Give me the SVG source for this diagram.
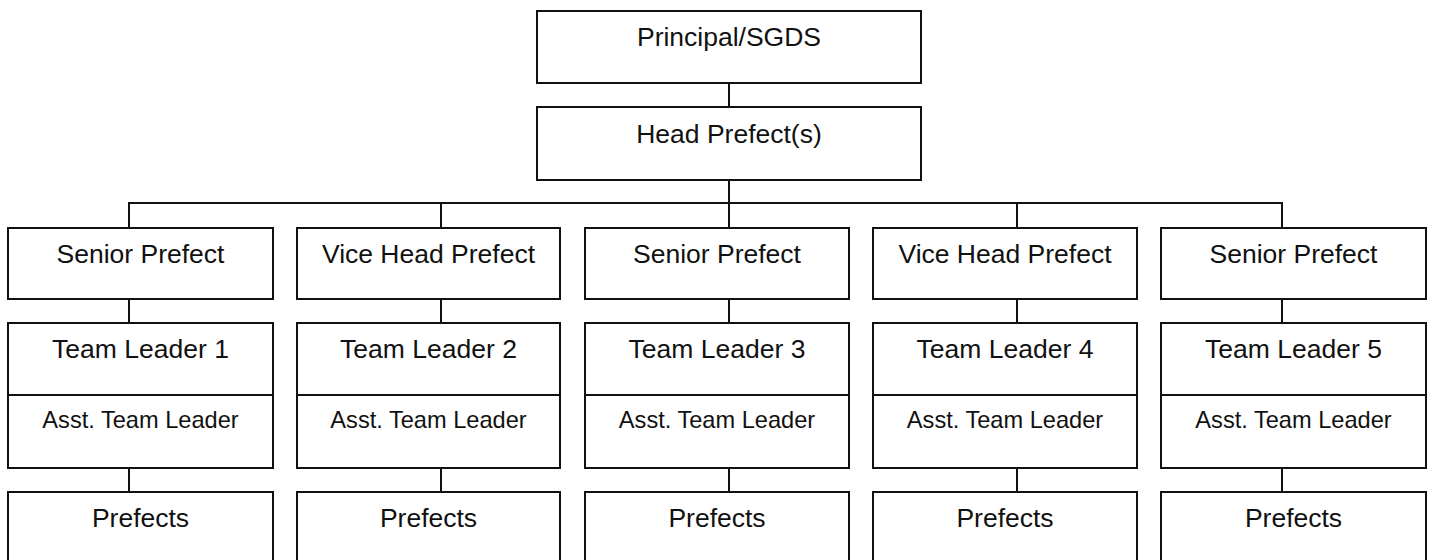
<svg xmlns="http://www.w3.org/2000/svg" width="1429" height="560" viewBox="0 0 1429 560">
<style>
.box{fill:#fff;stroke:#111;stroke-width:2}
.ln{fill:none;stroke:#111;stroke-width:2}
text{font-family:"Liberation Sans",Arial,sans-serif;font-size:26.5px;fill:#111;text-anchor:middle}
text.s{font-size:23.6px}
</style>
<rect width="1429" height="560" fill="#fff"/>
<g id="connectors" class="ln">
<path d="M729 83V107"/>
<path d="M729 180V203"/>
<path d="M129 228V203H1282V228"/>
<path d="M441 203V228"/>
<path d="M729 203V228"/>
<path d="M1017 203V228"/>
<path d="M129 299V323M441 299V323M729 299V323M1017 299V323M1282 299V323"/>
<path d="M129 468V492M441 468V492M729 468V492M1017 468V492M1282 468V492"/>
</g>
<g id="principal"><rect class="box" x="537" y="11" width="384" height="72"/><text x="729" y="46">Principal/SGDS</text></g>
<g id="head"><rect class="box" x="537" y="107" width="384" height="73"/><text x="729" y="143">Head Prefect(s)</text></g>

<g id="sp1"><rect class="box" x="8" y="228" width="265" height="71"/><text x="140.5" y="263">Senior Prefect</text></g>
<g id="vhp2"><rect class="box" x="297" y="228" width="263" height="71"/><text x="428.5" y="263">Vice Head Prefect</text></g>
<g id="sp3"><rect class="box" x="585" y="228" width="264" height="71"/><text x="717" y="263">Senior Prefect</text></g>
<g id="vhp4"><rect class="box" x="873" y="228" width="264" height="71"/><text x="1005" y="263">Vice Head Prefect</text></g>
<g id="sp5"><rect class="box" x="1161" y="228" width="265" height="71"/><text x="1293.5" y="263">Senior Prefect</text></g>

<g id="tl1"><rect class="box" x="8" y="323" width="265" height="145"/><path class="ln" d="M8 395H273"/><text x="140.5" y="358">Team Leader 1</text><text class="s" x="140.5" y="428">Asst. Team Leader</text></g>
<g id="tl2"><rect class="box" x="297" y="323" width="263" height="145"/><path class="ln" d="M297 395H560"/><text x="428.5" y="358">Team Leader 2</text><text class="s" x="428.5" y="428">Asst. Team Leader</text></g>
<g id="tl3"><rect class="box" x="585" y="323" width="264" height="145"/><path class="ln" d="M585 395H849"/><text x="717" y="358">Team Leader 3</text><text class="s" x="717" y="428">Asst. Team Leader</text></g>
<g id="tl4"><rect class="box" x="873" y="323" width="264" height="145"/><path class="ln" d="M873 395H1137"/><text x="1005" y="358">Team Leader 4</text><text class="s" x="1005" y="428">Asst. Team Leader</text></g>
<g id="tl5"><rect class="box" x="1161" y="323" width="265" height="145"/><path class="ln" d="M1161 395H1426"/><text x="1293.5" y="358">Team Leader 5</text><text class="s" x="1293.5" y="428">Asst. Team Leader</text></g>

<g id="p1"><rect class="box" x="8" y="492" width="265" height="80"/><text x="140.5" y="527">Prefects</text></g>
<g id="p2"><rect class="box" x="297" y="492" width="263" height="80"/><text x="428.5" y="527">Prefects</text></g>
<g id="p3"><rect class="box" x="585" y="492" width="264" height="80"/><text x="717" y="527">Prefects</text></g>
<g id="p4"><rect class="box" x="873" y="492" width="264" height="80"/><text x="1005" y="527">Prefects</text></g>
<g id="p5"><rect class="box" x="1161" y="492" width="265" height="80"/><text x="1293.5" y="527">Prefects</text></g>
</svg>
